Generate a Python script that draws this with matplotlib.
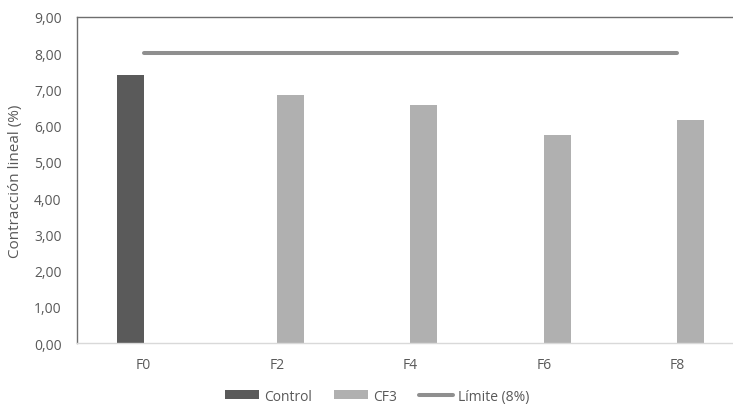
import numpy as np
import matplotlib
matplotlib.use("Agg")
import matplotlib.pyplot as plt
from matplotlib.ticker import FuncFormatter

plt.rcParams['font.family'] = ['Open Sans', 'DejaVu Sans']

categories = ["F0", "F2", "F4", "F6", "F8"]
control = [7.40, np.nan, np.nan, np.nan, np.nan]
cf3 = [np.nan, 6.85, 6.58, 5.74, 6.17]
limite = [8.0, 8.0, 8.0, 8.0, 8.0]
y_ticks = [0, 1, 2, 3, 4, 5, 6, 7, 8, 9]

text_color = "#595959"

fig = plt.figure(figsize=(7.33, 4.06), dpi=100)
ax = fig.add_axes([0.105, 0.1527, 0.91, 0.803])

x = np.arange(len(categories))
width = 0.2
b1 = ax.bar(x - width / 2, control, width, color="#5a5a5a", label="Control", zorder=2)
b2 = ax.bar(x + width / 2, cf3, width, color="#b0b0b0", label="CF3", zorder=2)
l1, = ax.plot(x, limite, color="#8f8f8f", lw=2.9, solid_capstyle="round",
              label="Límite (8%)", zorder=3)

ax.set_xlim(-0.5, len(categories) - 0.5)
ax.set_ylim(0, 9)
ax.set_yticks(y_ticks)
ax.yaxis.set_major_formatter(FuncFormatter(lambda v, p: f"{v:.2f}".replace(".", ",")))
ax.set_xticks(x)
ax.set_xticklabels(categories)

ax.tick_params(axis="both", length=0, labelsize=10, colors=text_color)
ax.tick_params(axis="y", pad=11)
ax.tick_params(axis="x", pad=10)

ax.set_ylabel("Contracción lineal (%)", fontsize=11, color=text_color, labelpad=8)

for side in ["left", "top"]:
    ax.spines[side].set_color("#6e6e6e")
    ax.spines[side].set_linewidth(1.0)
ax.spines["bottom"].set_color("#d9d9d9")
ax.spines["bottom"].set_linewidth(1.0)
ax.spines["right"].set_visible(False)

leg = fig.legend(handles=[b1, b2, l1], loc="center", bbox_to_anchor=(0.515, 0.022),
                 ncol=3, frameon=False, fontsize=10, handlelength=2.45,
                 handleheight=0.6, handletextpad=0.35, columnspacing=1.6,
                 borderpad=0.2)
for t in leg.get_texts():
    t.set_color(text_color)

fig.savefig("out.png", dpi=100)
